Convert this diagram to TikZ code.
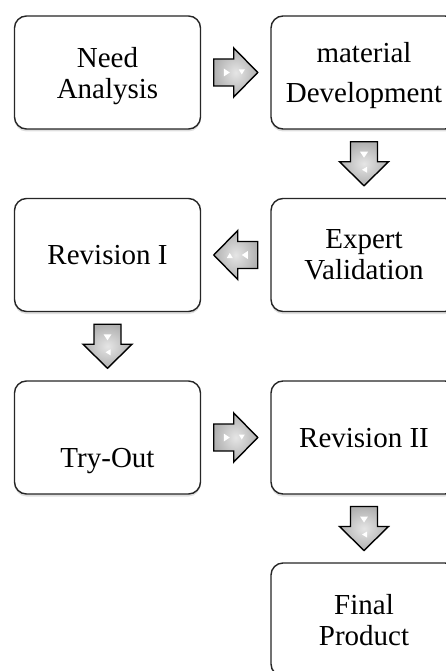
\documentclass[tikz,border=0pt]{standalone}
\usepackage{fontspec}
\setmainfont{Liberation Serif}
\usetikzlibrary{shadows}

\tikzset{
  stage/.style={draw=black!85, line width=1.4pt, rounded corners=12pt, fill=white,
    minimum width=186pt, minimum height=113pt, align=center,
    font=\fontsize{29}{31}\selectfont, text depth=0pt,
    drop shadow={shadow xshift=0pt, shadow yshift=-2.5pt, opacity=.25}},
  arrowbody/.style={draw=black, line width=1.4pt, line join=miter,
    inner color=gray!20, outer color=gray!62},
}
% block arrow at a coordinate, turned by an angle
\newcommand{\blockarrow}[2]{%
  \begin{scope}[shift={(#1)}, rotate=#2]
    \draw[arrowbody] (-22,-13.5) -- (-2,-13.5) -- (-2,-24.5) -- (22,0)
      -- (-2,24.5) -- (-2,13.5) -- (-22,13.5) -- cycle;
    \fill[white] (-12,-4) -- (-6,0) -- (-12,4) -- cycle;
    \fill[white] (3,-3) -- (9,-3) -- (6,2) -- cycle;
  \end{scope}}

\begin{document}
\begin{tikzpicture}[x=1pt, y=-1pt]
  \useasboundingbox (0,0) rectangle (446,671);

  \node[stage] (need)  at (107.5,72.5) {Need\\Analysis};
  \node[stage] (mat)   at (364,72.5)   {material\\[9pt]Development};
  \node[stage] (rev1)  at (107.5,255)  {Revision I};
  \node[stage] (exp)   at (364,255)    {Expert\\Validation};
  \node[stage, text height=59pt] (try) at (107.5,437.5) {Try-Out};
  \node[stage] (rev2)  at (364,437.5)  {Revision II};
  \node[stage] (final) at (364,619.5)  {Final\\Product};

  % arrows between the stages
  \path (need) -- (mat)   coordinate[midway] (a1);
  \path (mat)  -- (exp)   coordinate[midway] (a2);
  \path (exp)  -- (rev1)  coordinate[midway] (a3);
  \path (rev1) -- (try)   coordinate[midway] (a4);
  \path (try)  -- (rev2)  coordinate[midway] (a5);
  \path (rev2) -- (final) coordinate[midway] (a6);

  \blockarrow{a1}{0}
  \blockarrow{a2}{-90}
  \blockarrow{a3}{180}
  \blockarrow{a4}{-90}
  \blockarrow{a5}{0}
  \blockarrow{a6}{-90}
\end{tikzpicture}
\end{document}
